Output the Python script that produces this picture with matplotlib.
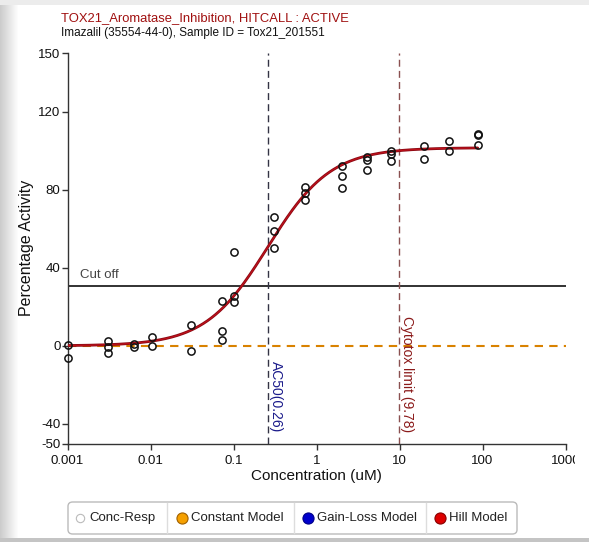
import numpy as np
import matplotlib
matplotlib.use("Agg")
import matplotlib.pyplot as plt
from matplotlib.patches import Rectangle, FancyBboxPatch
from matplotlib.lines import Line2D
import matplotlib.transforms as mtransforms

plt.rcParams['font.family'] = ['Liberation Sans', 'DejaVu Sans']

# ---- data ----
conc = [0.001, 0.001,
        0.0031, 0.0031, 0.0031,
        0.0063, 0.0063,
        0.0104, 0.0104,
        0.031, 0.031,
        0.072, 0.072, 0.072,
        0.1, 0.1, 0.1,
        0.31, 0.31, 0.31,
        0.72, 0.72, 0.72,
        2.03, 2.03, 2.03,
        4.03, 4.03, 4.03,
        8.0, 8.0, 8.0,
        19.9, 19.9,
        39.5, 39.5,
        87.5, 87.5, 87.5]
resp = [0.3, -6.0,
        2.7, -0.6, -3.8,
        0.8, -0.4,
        4.6, 0.0,
        10.9, -2.4,
        22.9, 7.7, 3.1,
        48.0, 25.3, 22.7,
        66.0, 58.6, 49.9,
        81.4, 78.3, 74.5,
        92.1, 87.2, 80.7,
        96.8, 95.4, 89.9,
        99.6, 98.3, 94.7,
        102.2, 95.9,
        105.0, 99.6,
        108.6, 107.9, 102.7]

hill_top = 101.5
hill_ac50 = 0.26
hill_slope = 1.15
cutoff = 30.8
cytotox = 9.78
const_level = 0.0

x_ticks = [0.001, 0.01, 0.1, 1, 10, 100, 1000]
x_tick_labels = ["0.001", "0.01", "0.1", "1", "10", "100", "1000"]
y_ticks = [150, 120, 80, 40, 0, -40, -50]

title_line1 = "TOX21_Aromatase_Inhibition, HITCALL : ACTIVE"
title_line2 = "Imazalil (35554-44-0), Sample ID = Tox21_201551"
legend_labels = ["Conc-Resp", "Constant Model", "Gain-Loss Model", "Hill Model"]

# ---- figure ----
W, H = 589, 542
fig = plt.figure(figsize=(W / 100, H / 100), dpi=100)
fig.patch.set_facecolor('white')

def fx(px):
    return px / W

def fy(py):
    return 1 - py / H

# background frame decoration
for i in range(18):
    c = 0.80 + 0.2 * i / 18
    fig.add_artist(Rectangle((fx(i), 0), fx(1), 1, transform=fig.transFigure,
                             facecolor=(c, c, c), edgecolor='none', zorder=-5))
fig.add_artist(Rectangle((0, fy(5)), 1, 5 / H, transform=fig.transFigure,
                         facecolor='#ececec', edgecolor='none', zorder=-5))
fig.add_artist(Rectangle((0, 0), 1, 4 / H, transform=fig.transFigure,
                         facecolor='#c4c4c4', edgecolor='none', zorder=-4))

left, right, top, bottom = 67.5, 565.5, 53, 443.5
ax = fig.add_axes([fx(left), fy(bottom), fx(right - left), (bottom - top) / H])
ax.set_facecolor('none')
ax.set_xscale('log')
ax.set_xlim(0.001, 1000)
ax.set_ylim(-50, 150)
for s in ['top', 'right']:
    ax.spines[s].set_visible(False)
for s in ['left', 'bottom']:
    ax.spines[s].set_color('#333333')
    ax.spines[s].set_linewidth(1.0)
ax.set_xticks(x_ticks)
ax.set_xticklabels(x_tick_labels)
ax.xaxis.set_minor_locator(matplotlib.ticker.NullLocator())
ax.set_yticks(y_ticks)
ax.set_yticklabels([str(v) for v in y_ticks])
ax.tick_params(axis='both', direction='out', length=4, width=1, color='#333333',
               labelsize=9.5, labelcolor='#111111', pad=1)
ax.tick_params(axis='x', pad=4)
ax.set_xlabel("Concentration (uM)", fontsize=11, color='#111111', labelpad=2)
ax.set_ylabel("Percentage Activity", fontsize=11.5, color='#111111', labelpad=3)

# constant model
ax.axhline(const_level, color='#d98200', lw=1.5, dashes=(4, 3), zorder=2)
# cutoff
ax.axhline(cutoff, color='#222222', lw=1.3, zorder=2)
ax.text(0.0014, cutoff + 2.5, "Cut off", fontsize=9.5, color='#444444', ha='left', va='bottom')

# AC50 & cytotox lines
ax.axvline(hill_ac50, color='#333344', lw=1.0, dashes=(5, 3), zorder=2)
ax.axvline(cytotox, color='#8a5050', lw=1.0, dashes=(5, 3), zorder=2)
offs = mtransforms.offset_copy(ax.transData, fig=fig, x=1.5, y=0, units='dots')
ax.text(hill_ac50, -44, "AC50(0.26)", rotation=-90, fontsize=10, color='#1a1a8a',
        ha='left', va='bottom', transform=offs)
ax.text(cytotox, -44, "Cytotox limit (9.78)", rotation=-90, fontsize=10, color='#8b1a1a',
        ha='left', va='bottom', transform=offs)

# hill model
xs = np.logspace(np.log10(min(conc)), np.log10(max(conc)), 300)
ys = hill_top / (1 + (hill_ac50 / xs) ** hill_slope)
ax.plot(xs, ys, color='#8b0a14', lw=2.0, zorder=3, solid_capstyle='round')
ax.plot(xs, ys, color='#c0101a', lw=0.8, zorder=3)

# data points
ax.plot(conc, resp, linestyle='none', marker='o', markersize=5.2, markerfacecolor='none',
        markeredgecolor='#111111', markeredgewidth=1.1, zorder=4, clip_on=False)

# titles
fig.text(fx(61), fy(18), title_line1, fontsize=9.4, color='#a01010', ha='left', va='center')
fig.text(fx(61), fy(33), title_line2, fontsize=8.5, color='#111111', ha='left', va='center')

# clip of the last x tick label
fig.add_artist(Rectangle((fx(575), fy(475)), fx(14), 25 / H, transform=fig.transFigure,
                         facecolor='white', edgecolor='none', zorder=10))

# legend box
lx0, lx1, ly0, ly1 = 68, 517, 502, 534
box = FancyBboxPatch((fx(lx0), fy(ly1)), fx(lx1 - lx0), (ly1 - ly0) / H,
                     boxstyle="round,pad=0,rounding_size=0.008", transform=fig.transFigure,
                     facecolor='white', edgecolor='#bbbbbb', lw=1.0, zorder=5)
fig.add_artist(box)
for sx in [167, 294, 426]:
    fig.add_artist(Line2D([fx(sx), fx(sx)], [fy(ly0 + 1), fy(ly1 - 1)], transform=fig.transFigure,
                          color='#dddddd', lw=1.0, zorder=6))
marker_x = [80, 182, 308, 440]
face = ['none', '#f5a000', '#0000cc', '#dd0000']
edge = ['#bbbbbb', '#a06000', '#000088', '#880000']
ly = (ly0 + ly1) / 2
for mx, lab, fc, ec in zip(marker_x, legend_labels, face, edge):
    fig.add_artist(Line2D([fx(mx)], [fy(ly)], transform=fig.transFigure, marker='o',
                          markersize=8 if fc != 'none' else 6, markerfacecolor=fc,
                          markeredgecolor=ec, markeredgewidth=0.8, linestyle='none', zorder=7))
    fig.text(fx(mx + 9), fy(ly), lab, fontsize=9.5, color='#222222', ha='left', va='center', zorder=7)

fig.savefig("out.png", dpi=100)
